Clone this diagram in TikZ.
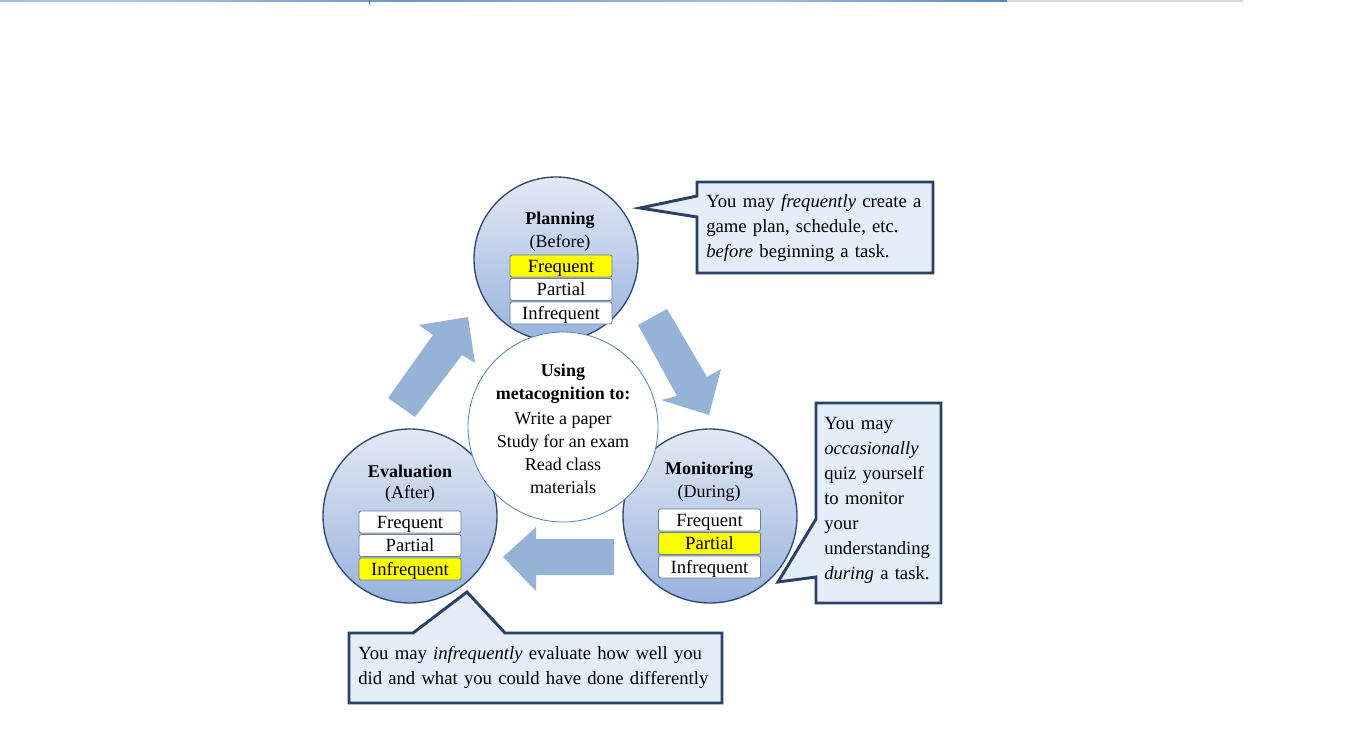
\documentclass[tikz,border=0pt]{standalone}
\usepackage{fontspec}
\setmainfont{Liberation Serif}
\usetikzlibrary{positioning}

\definecolor{phaseline}{HTML}{2C4A6E}
\definecolor{phasetop}{HTML}{E3E8F4}
\definecolor{phasebot}{HTML}{98B2DE}
\definecolor{boxline}{HTML}{6B7C93}
\definecolor{hilite}{HTML}{FFFF00}
\definecolor{hubline}{HTML}{4F81BD}
\definecolor{flow}{HTML}{95B3D7}
\definecolor{notefill}{HTML}{E4EEF8}
\definecolor{noteline}{HTML}{2B4164}
\definecolor{barlight}{HTML}{C8E0F8}
\definecolor{bardark}{HTML}{4A7BB5}
\definecolor{bargrey}{HTML}{DADADA}

\pgfdeclarehorizontalshading{topbar}{100bp}{color(0bp)=(barlight); color(15bp)=(bardark!70); color(30bp)=(barlight!80!bardark); color(45bp)=(bardark!80); color(62bp)=(barlight!70!bardark); color(78bp)=(bardark); color(86bp)=(barlight); color(100bp)=(bardark!90!black)}

\tikzset{
  phase/.style={circle,draw=phaseline,line width=1pt,top color=phasetop,bottom color=phasebot,inner sep=0pt},
  hub/.style={circle,draw=hubline,line width=0.6pt,fill=white,inner sep=0pt,minimum size=142.5pt},
  title/.style={inner sep=0pt,font=\fontsize{13.5pt}{17.25pt}\selectfont\bfseries},
  when/.style={inner sep=0pt,font=\fontsize{13.5pt}{17.25pt}\selectfont},
  lvl/.style={rectangle,rounded corners=1.5pt,draw=boxline,line width=0.6pt,fill=white,minimum width=76.5pt,minimum height=16.5pt,inner sep=0pt,text height=9.5pt,text depth=0.5pt,font=\fontsize{14pt}{15pt}\selectfont},
  flowarrow/.style={fill=flow},
  note/.style={fill=notefill,draw=noteline,line width=2.2pt,miter limit=20},
  notetext/.style={anchor=west,align=left,inner sep=0pt,font=\fontsize{14pt}{18.75pt}\selectfont}
}

\begin{document}
\begin{tikzpicture}[x=0.75pt,y=-0.75pt]
\useasboundingbox (0,0) rectangle (1366,728);

\shade[shading=topbar] (0,0) rectangle (1007,1.5);
\fill[bargrey] (1007,0) rectangle (1243,1.5);
\draw[hubline,line width=0.5pt] (369,0)--(369,5);

\fill[flowarrow] (388,398)--(433,335)--(419,325)--(468,317)--(475,363)--(462,355)--(415,417)--cycle;
\fill[flowarrow] (638,325)--(677,396)--(661,400)--(709,415)--(721,369)--(707,377)--(667,309)--cycle;
\fill[flowarrow] (614,539)--(536,539)--(536,527)--(503,557)--(536,591)--(536,575)--(614,575)--cycle;

\node[phase,minimum size=123pt] (plan) at (556,259) {};
\node[phase,minimum size=130.5pt] (mon) at (710,516) {};
\node[phase,minimum size=130.5pt] (eval) at (410,516) {};
\node[hub] (hub) at (563,427) {};

\node[title] (plant) at (560,220) {Planning};
\node[when] (planw) at (560,243) {(Before)};
\node[lvl,fill=hilite] (planf) at (561,266) {Frequent};
\node[lvl] (planp) at (561,289.5) {Partial};
\node[lvl] (plani) at (561,313) {Infrequent};

\node[title] (mont) at (709,470) {Monitoring};
\node[when] (monw) at (709,493) {(During)};
\node[lvl] (monf) at (709.5,520) {Frequent};
\node[lvl,fill=hilite] (monp) at (709.5,543.5) {Partial};
\node[lvl] (moni) at (709.5,567) {Infrequent};

\node[title] (evalt) at (410,471) {Evaluation};
\node[when] (evalw) at (410,494) {(After)};
\node[lvl] (evalf) at (410,522) {Frequent};
\node[lvl] (evalp) at (410,545.5) {Partial};
\node[lvl,fill=hilite] (evali) at (410,569) {Infrequent};

\node[title,align=center] (hubt) at (563,383.5) {Using\\metacognition to:};
\node[when,align=center] (hubl) at (563,453) {Write a paper\\Study for an exam\\Read class\\materials};

\draw[note] (697,182)--(933,182)--(933,273)--(697,273)--(697,217)--(640,208)--(697,196)--cycle;
\node[notetext,text width=163.5pt] (planc) at (706,228) {You may \textit{frequently} create a\\game plan, schedule, etc.\\\textit{before} beginning a task.};

\draw[note] (816,403)--(941,403)--(941,603)--(816,603)--(816,577)--(778,582)--(816,519)--cycle;
\node[notetext,text width=81.75pt] (monc) at (824,500) {You may\\\textit{occasionally}\\quiz yourself\\to monitor\\your\\understanding\\\textit{during} a task.};

\draw[note] (349,633)--(413,633)--(467,592)--(505,633)--(722,633)--(722,703)--(349,703)--cycle;
\node[notetext,text width=266pt] (evalc) at (358,667.5) {You may \textit{infrequently} evaluate how well you\\did and what you could have done differently};
\end{tikzpicture}
\end{document}
